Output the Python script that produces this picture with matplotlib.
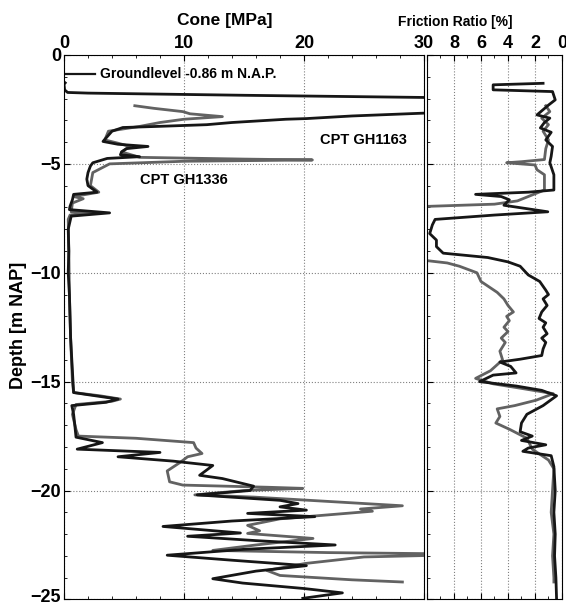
import matplotlib
matplotlib.use('Agg')
import matplotlib.pyplot as plt
import matplotlib.transforms as mtransforms
from matplotlib.ticker import MultipleLocator, FixedLocator

plt.rcParams.update({'font.family': ['Liberation Sans', 'DejaVu Sans'],
                     'font.weight': 'bold'})

# cone resistance, CPT GH1163 (black)
cone_1163_depth = [-1.28, -1.35, -1.6, -1.72, -1.75, -1.85, -1.95, -2.0, -2.6, -2.67, -2.8, -2.92,
                   -2.95, -3.1, -3.2, -3.28, -3.33, -3.5, -3.75, -3.97, -4.1, -4.2, -4.3, -4.45,
                   -4.58, -4.67, -4.75, -4.95, -5.1, -5.4, -5.7, -6.0, -6.3, -6.4, -6.65, -6.95,
                   -7.1, -7.25, -7.4, -8.0, -9.0, -10.0, -11.0, -12.0, -13.0, -14.0, -15.0, -15.5,
                   -15.6, -15.8, -15.95, -16.1, -16.5, -17.0, -17.55, -17.8, -18.1, -18.25, -18.45,
                   -18.65, -18.85, -19.3, -19.45, -19.8, -20.0, -20.2, -20.45, -20.6, -20.75, -20.9,
                   -21.05, -21.2, -21.4, -21.65, -21.95, -22.1, -22.3, -22.5, -22.7, -22.97, -23.2,
                   -23.45, -23.7, -24.05, -24.25, -24.5, -24.7, -24.95]
cone_1163_q = [0.1, 0.0, 0.05, 0.3, 2.0, 15.0, 30.0, 32.0, 32.0, 30.0, 24.0, 20.2,
               18.5, 14.0, 11.9, 7.75, 4.9, 4.0, 3.6, 3.25, 4.5, 7.0, 5.2, 4.8,
               4.7, 6.3, 3.6, 2.4, 2.2, 2.0, 1.9, 2.0, 2.75, 0.8, 0.7, 0.5,
               0.45, 3.8, 0.6, 0.35, 0.4, 0.35, 0.45, 0.5, 0.55, 0.65, 0.75, 0.8,
               2.0, 4.5, 3.5, 0.65, 0.8, 0.9, 1.0, 3.2, 1.1, 8.0, 4.5,
               9.1, 12.4, 11.3, 13.2, 15.8, 15.5, 11.1, 18.0, 19.5, 18.0, 20.2,
               15.3, 20.9, 14.0, 8.25, 14.7, 10.3, 16.0, 22.6, 15.0, 8.6, 14.0,
               20.2, 16.0, 12.4, 14.9, 20.0, 23.2, 19.9]

# cone resistance, CPT GH1336 (grey)
cone_1336_depth = [-2.33, -2.45, -2.6, -2.7, -2.83, -2.95, -3.1, -3.28, -3.5, -3.9, -4.05, -4.2,
                   -4.45, -4.7, -4.78, -4.82, -4.88, -5.0, -5.4, -6.0, -6.3, -6.5, -6.6, -6.8,
                   -7.2, -7.25, -7.35, -7.55, -9.0, -11.0, -13.0, -15.0, -15.5, -15.65, -15.8,
                   -15.9, -16.05, -16.5, -17.2, -17.5, -17.6, -17.8, -18.05, -18.3, -18.45, -18.7,
                   -19.1, -19.6, -19.75, -19.85, -19.9, -20.0, -20.2, -20.3, -20.5, -20.7, -20.85,
                   -20.95, -21.3, -21.6, -21.85, -21.97, -22.2, -22.5, -22.75, -22.85, -22.9,
                   -22.98, -23.05, -23.35, -23.67, -23.9, -24.1, -24.2]
cone_1336_q = [5.9, 7.5, 9.9, 10.5, 13.2, 10.0, 8.0, 6.3, 3.7, 3.4, 4.5, 5.5,
               4.8, 6.3, 15.0, 20.7, 10.0, 3.8, 2.4, 2.2, 2.9, 0.8, 1.6, 0.7,
               0.6, 3.0, 0.5, 0.35, 0.4, 0.45, 0.55, 0.7, 0.8, 3.0, 4.7,
               4.0, 1.0, 0.7, 1.0, 1.2, 6.0, 10.8, 11.0, 11.5, 10.3, 9.7,
               8.6, 8.8, 9.9, 17.0, 19.9, 15.0, 10.9, 15.8, 22.0, 28.2, 24.7,
               25.7, 18.0, 15.3, 16.3, 15.3, 20.75, 16.0, 12.4, 22.0, 30.5,
               30.5, 25.0, 20.1, 16.9, 18.0, 24.0, 28.2]

# friction ratio, CPT GH1163 (black)
fr_1163_depth = [-1.3, -1.37, -1.6, -1.68, -2.06, -2.3, -2.75, -2.9, -3.1, -3.35, -3.55, -3.9,
                 -4.2, -4.65, -4.95, -5.5, -6.2, -6.3, -6.4, -6.5, -6.65, -6.9, -7.2, -7.35,
                 -7.55, -7.8, -8.2, -8.5, -8.8, -9.1, -9.3, -9.5, -9.7, -10.1, -10.4, -10.8,
                 -11.0, -11.2, -11.5, -11.8, -12.1, -12.3, -12.5, -12.8, -13.0, -13.2, -13.5,
                 -13.8, -13.97, -14.1, -14.3, -14.6,
                 -14.7, -15.0, -15.2, -15.4, -15.65, -16.1, -16.5, -16.9, -17.3, -17.5, -17.7,
                 -17.9, -18.05, -18.2, -18.4, -18.9, -20.0, -21.0, -22.0, -23.0, -24.0, -25.0]
fr_1163 = [1.4, 5.1, 5.1, 0.7, 0.5, 1.0, 1.85, 0.9, 1.3, 1.6, 0.8, 1.2,
           0.7, 0.8, 0.9, 0.6, 0.6, 2.5, 6.4, 4.5, 3.9, 4.3, 1.05, 5.0,
           9.4, 9.6, 9.8, 9.3, 9.3, 8.8, 5.5, 4.0, 3.1, 2.5, 1.65, 1.2,
           1.0, 1.4, 1.1, 1.5, 1.7, 1.2, 1.4, 1.1, 1.5, 1.2, 1.4,
           1.5, 3.1, 4.6, 3.8, 3.4,
           5.1, 6.1, 3.4, 1.5, 0.4, 1.4, 2.6, 3.0, 3.1, 2.2, 3.0,
           1.2, 2.5, 2.9, 0.8, 0.6, 0.5, 0.6, 0.5, 0.55, 0.45, 0.4]

# friction ratio, CPT GH1336 (grey)
fr_1336_depth = [-2.33, -2.6, -2.9, -3.2, -3.5, -3.9, -4.3, -4.8, -4.9, -4.95, -5.05, -5.27,
                 -5.5, -6.2, -6.5, -6.7, -6.85, -6.95, -7.0, -9.4, -9.45, -9.55, -9.7, -10.0,
                 -10.4, -10.9, -11.2, -11.5, -11.8, -12.0, -12.2, -12.5, -12.7, -13.0, -13.2,
                 -13.6, -14.0, -14.5,
                 -14.85, -15.1, -15.3, -15.55, -15.85, -16.1, -16.25, -16.6, -16.9, -17.2,
                 -17.6, -18.1, -18.6, -19.0, -20.0, -21.0, -22.0, -23.0, -24.0, -24.2]
fr_1336 = [1.2, 0.9, 1.5, 1.0, 1.4, 1.0, 1.2, 1.3, 3.0, 4.1, 2.0, 1.85,
           1.3, 1.3, 2.5, 3.3, 5.0, 9.9, 10.5, 10.5, 9.9, 8.5, 7.6, 6.3,
           6.0, 4.8, 4.3, 4.0, 3.6, 4.1, 3.9, 4.3, 4.0, 4.5, 4.2,
           4.6, 4.4, 5.3,
           6.4, 5.1, 3.1, 0.65, 1.9, 3.5, 4.8, 4.6, 4.9, 3.85,
           2.6, 2.2, 1.0, 0.6, 0.7, 0.8, 0.6, 0.7, 0.6, 0.6]

ground_level = -0.86
black = '#161616'
grey = '#626262'

fig = plt.figure(figsize=(5.66, 6.07), dpi=100)
ax1 = fig.add_axes([0.1131, 0.0125, 0.6360, 0.8969])
ax2 = fig.add_axes([0.7544, 0.0125, 0.2385, 0.8969])

# --- cone panel
ax1.plot([0, 2.6], [ground_level, ground_level], color=black, lw=1.6)
ax1.plot(cone_1336_q, cone_1336_depth, color=grey, lw=2.0)
ax1.plot(cone_1163_q, cone_1163_depth, color=black, lw=2.0)
ax1.set_xlim(0, 30)
ax1.set_ylim(-25, 0)
ax1.xaxis.set_major_locator(MultipleLocator(10))
ax1.xaxis.set_minor_locator(MultipleLocator(2))
ax1.yaxis.set_major_locator(MultipleLocator(5))
ax1.yaxis.set_minor_locator(MultipleLocator(1))
ax1.tick_params(which='both', direction='in', top=True, bottom=True, left=True, right=False,
                labeltop=True, labelbottom=False, labelsize=13, pad=2)
ax1.tick_params(which='major', length=4)
ax1.tick_params(which='minor', length=2.5)
ax1.grid(True, which='major', linestyle=':', color='#808080', lw=0.8)
ax1.text(3.0, ground_level, 'Groundlevel -0.86 m N.A.P.', fontsize=10, fontweight='bold', va='center')
ax1.text(21.3, -3.9, 'CPT GH1163', fontsize=10.5, fontweight='bold', va='center')
ax1.text(6.3, -5.72, 'CPT GH1336', fontsize=10.5, fontweight='bold', va='center')

# --- friction ratio panel
ax2.plot(fr_1336, fr_1336_depth, color=grey, lw=2.0)
ax2.plot(fr_1163, fr_1163_depth, color=black, lw=2.0)
ax2.set_xlim(10, 0)
ax2.set_ylim(-25, 0)
ax2.xaxis.set_major_locator(FixedLocator([10, 8, 6, 4, 2, 0]))
ax2.set_xticklabels(['', '8', '6', '4', '2', '0'])
ax2.xaxis.set_minor_locator(MultipleLocator(1))
ax2.yaxis.set_major_locator(MultipleLocator(5))
ax2.yaxis.set_minor_locator(MultipleLocator(1))
ax2.tick_params(which='both', direction='in', top=True, bottom=True, left=True, right=False,
                labeltop=True, labelbottom=False, labelleft=False, labelsize=13, pad=2)
ax2.tick_params(which='major', length=4)
ax2.tick_params(which='minor', length=2.5)
ax2.grid(True, which='major', linestyle=':', color='#808080', lw=0.8)

for ax in (ax1, ax2):
    for lab in ax.get_xticklabels() + ax.get_yticklabels():
        lab.set_fontweight('bold')

# lift the bottom depth label a little so it stays inside the figure
fig.canvas.draw()
lift = mtransforms.ScaledTranslation(0, 3 / 72, fig.dpi_scale_trans)
for lab in ax1.get_yticklabels():
    if lab.get_text().replace('\u2212', '-') == '-25':
        lab.set_transform(lab.get_transform() + lift)

fig.text(0.3975, 0.967, 'Cone [MPa]', fontsize=12.5, fontweight='bold', ha='center', va='center')
fig.text(0.804, 0.964, 'Friction Ratio [%]', fontsize=10, fontweight='bold', ha='center', va='center')
fig.text(0.032, 0.4646, 'Depth [m NAP]', fontsize=13, fontweight='bold', rotation=90,
         ha='center', va='center')

fig.savefig('out.png', dpi=100)
